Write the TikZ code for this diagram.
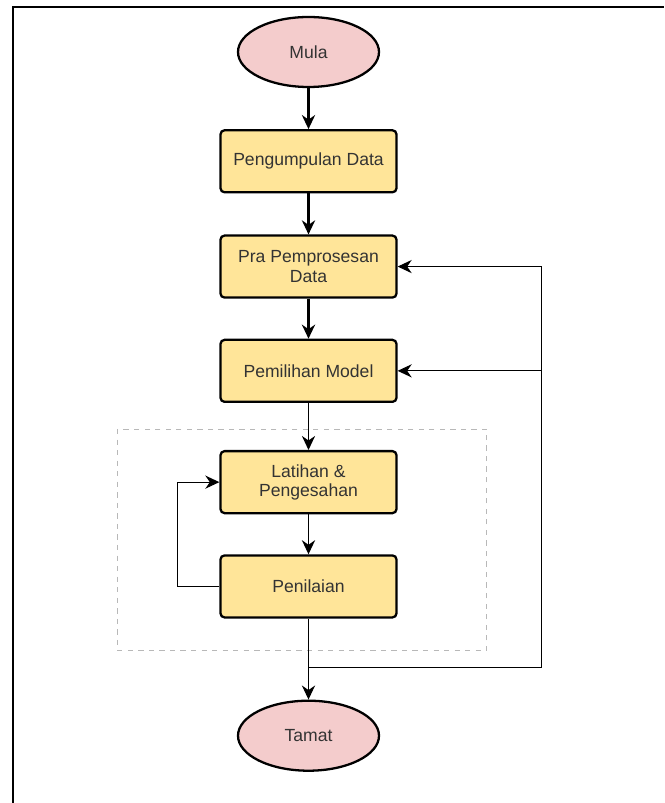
\documentclass[tikz,border=0pt]{standalone}
\usepackage{fontspec}
\setmainfont{Liberation Sans}
\definecolor{boxyellow}{HTML}{FFE599}
\definecolor{endpink}{HTML}{F4CCCC}
\definecolor{textgrey}{HTML}{333333}
\definecolor{dashgrey}{HTML}{B8B8B8}
\usetikzlibrary{arrows.meta, positioning, shapes.geometric, calc}

\begin{document}
\begin{tikzpicture}[
    stepbox/.style={rectangle, rounded corners=2.3pt, draw=black, fill=boxyellow, minimum width=3.52cm, minimum height=1.24cm, align=center, text=textgrey, font=\fontsize{10}{11}\selectfont, line width=1.3pt},
    term/.style={ellipse, draw=black, fill=endpink, minimum width=2.82cm, minimum height=1.4cm, text=textgrey, font=\fontsize{10}{11}\selectfont, line width=1.3pt},
    arr/.style={-{Stealth[length=8pt, width=7.5pt]}, line width=#1},
    arr/.default=1.4pt,
    fb/.style={-{Stealth[length=8pt, width=7.5pt]}, line width=0.6pt},
]
    % frame and margins
    \useasboundingbox (-6.17,1.04) rectangle (7.11,-15.02);
    \draw[line width=1.2pt] (-5.91,-15.02) -- (-5.91,0.9) -- (7.11,0.9);

    \node[term] (mula) {Mula};
    \node[stepbox, below=0.82cm of mula] (kumpul) {Pengumpulan Data};
    \node[stepbox, below=0.82cm of kumpul] (pra) {Pra Pemprosesan\\Data};
    \node[stepbox, below=0.8cm of pra] (pilih) {Pemilihan Model};
    \node[stepbox, below=0.94cm of pilih] (latih) {Latihan \&\\Pengesahan};
    \node[stepbox, below=0.8cm of latih] (nilai) {Penilaian};
    \node[term, below=1.62cm of nilai] (tamat) {Tamat};

    % dashed group round training and evaluation
    \draw[dashgrey, dashed, line width=0.5pt] ($(latih.north west)+(-2.04,0.42)$) rectangle ($(nilai.south east)+(1.78,-0.64)$);

    \draw[arr] (mula) -- (kumpul);
    \draw[arr] (kumpul) -- (pra);
    \draw[arr] (pra) -- (pilih);
    \draw[arr=0.7pt] (pilih) -- (latih);
    \draw[arr=1pt] (latih) -- (nilai);
    \draw[arr=0.7pt] (nilai) -- (tamat);

    % feedback loops
    \coordinate[below=0.98cm of nilai.south] (gabung);
    \coordinate (kanan) at ($(pra.east |- gabung)+(2.88,0)$);
    \draw[line width=0.6pt] (gabung) -- (kanan);
    \draw[fb] (kanan) |- (pra.east);
    \draw[fb] (kanan) |- (pilih.east);
    \draw[fb] (nilai.west) -- ++(-0.84,0) |- (latih.west);
\end{tikzpicture}
\end{document}
